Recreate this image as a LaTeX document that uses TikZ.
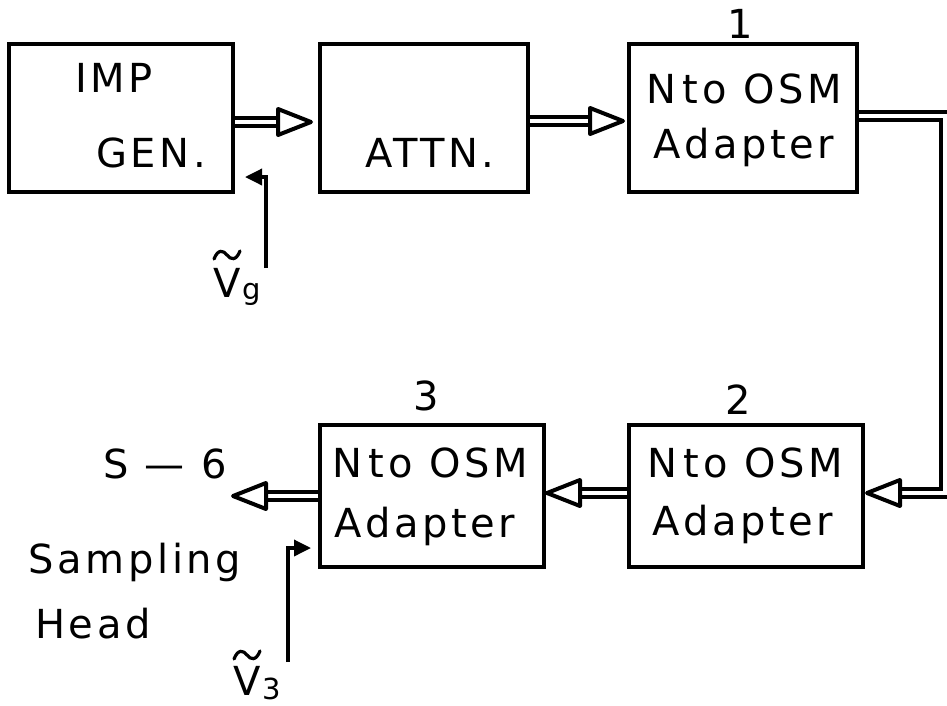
\documentclass[tikz,border=0pt]{standalone}
\usepackage{fontspec}
\newfontfamily\letfont[LetterSpace=9]{DejaVu Sans}
\newfontfamily\subfont{DejaVu Sans}
\usetikzlibrary{arrows.meta}
\newcommand\lettering{\letfont\fontsize{40}{42}\selectfont}
\newcommand\subsize{\subfont\fontsize{29}{30}\selectfont}
\tikzset{
  box/.style={draw, line width=4pt, rectangle, inner sep=0pt},
  txt/.style={font=\lettering, anchor=base, inner sep=0pt},
  subtxt/.style={font=\subsize, anchor=base, inner sep=0pt},
  shaft/.style={draw, line width=4pt, double=white, double distance=4pt},
  ohead/.pic={\draw[line width=4pt, line join=round, fill=white] (0pt,0pt) -- (33pt,13pt) -- (33pt,-13pt) -- cycle;},
  ctrl/.style={draw, line width=3.5pt, -{Triangle[length=17pt 0 0, width=16pt 0 0]}},
  tilde/.style={draw, line width=3.2pt, line cap=round},
}
\begin{document}
\begin{tikzpicture}[x=1pt,y=-1pt]
\useasboundingbox (0,0) rectangle (947,705);
% boxes
\node[box, minimum width=224pt, minimum height=148pt] (imp) at (121,118) {};
\node[box, minimum width=208pt, minimum height=148pt] (attn) at (424,118) {};
\node[box, minimum width=228pt, minimum height=148pt] (box1) at (743,118) {};
\node[box, minimum width=234pt, minimum height=142pt] (box2) at (746,496) {};
\node[box, minimum width=224pt, minimum height=142pt] (box3) at (432,496) {};
% texts
\node[txt] (impa) at (114,92) {IMP};
\node[txt] (impb) at (151,167) {GEN.};
\node[txt] (attnt) at (430,167) {ATTN.};
\node[txt] (b1a) at (744,103) {N\,to OSM};
\node[txt] (b1b) at (744,158) {Adapter};
\node[txt] (b2a) at (745,477) {N\,to OSM};
\node[txt] (b2b) at (743,535) {Adapter};
\node[txt] (b3a) at (430,477) {N\,to OSM};
\node[txt] (b3b) at (425,537) {Adapter};
\node[txt] (n1) at (740,38) {1};
\node[txt] (n2) at (738,414) {2};
\node[txt] (n3) at (426,410) {3};
\node[txt] (s6t) at (165,478) {S — 6};
\node[txt] (samp) at (135,573) {Sampling};
\node[txt] (head) at (93,638) {Head};
\node[txt] (vg) at (227,297) {V};
\node[subtxt] (vgs) at (252,299) {g};
\node[txt] (v3) at (247,695) {V};
\node[subtxt] (v3s) at (272,699) {3};
% tildes over V
\draw[tilde] (214,259) .. controls (218,249) and (223,250) .. (227,255) .. controls (231,260) and (236,261) .. (240,251);
\draw[tilde] (234,659) .. controls (238,649) and (243,650) .. (247,655) .. controls (251,660) and (256,661) .. (260,651);
% double connectors
\draw[shaft] ([yshift=-4pt]imp.east) -- ([yshift=-4pt,xshift=-25pt]attn.west);
\pic[rotate=180] at ([yshift=-4pt,xshift=-7pt]attn.west) {ohead};
\draw[shaft] ([yshift=-3pt]attn.east) -- ([yshift=-3pt,xshift=-22pt]box1.west);
\pic[rotate=180] at ([yshift=-3pt,xshift=-4pt]box1.west) {ohead};
\coordinate (rt) at (945,300);
\draw[shaft] ([yshift=2pt]box1.east) -| (rt) |- ([yshift=3pt,xshift=20pt]box2.east);
\pic at ([yshift=3pt,xshift=2pt]box2.east) {ohead};
\draw[shaft] ([yshift=3pt]box2.west) -- ([yshift=3pt,xshift=20pt]box3.east);
\pic at ([yshift=3pt,xshift=1pt]box3.east) {ohead};
\coordinate (s6) at (233,496);
\draw[shaft] (box3.west) -- ([xshift=20pt]s6);
\pic at (s6) {ohead};
% control arrows
\coordinate (vgfoot) at (266,268);
\coordinate (vgtip) at (245,177);
\draw[ctrl] (vgfoot) |- (vgtip);
\coordinate (v3foot) at (288,662);
\draw[ctrl] (v3foot) |- ([xshift=-7pt,yshift=-52pt]box3.west);
\end{tikzpicture}
\end{document}
